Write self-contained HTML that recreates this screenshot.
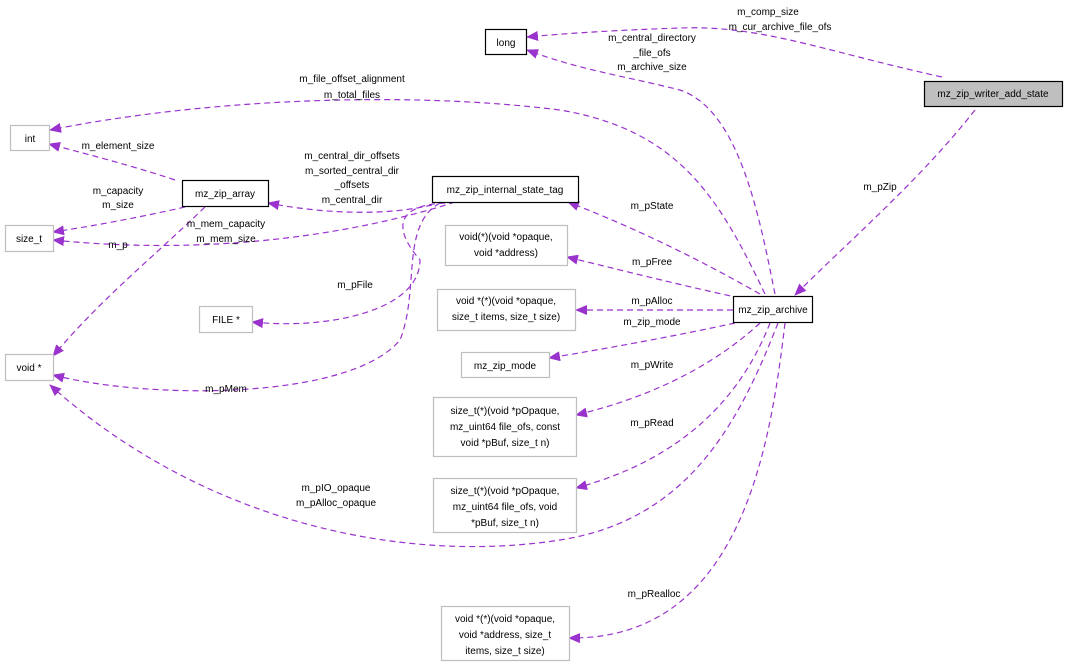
<!DOCTYPE html>
<html><head><meta charset="utf-8"><style>
html,body{margin:0;padding:0;background:#fff;}
svg{display:block;font-family:"Liberation Sans",sans-serif;}
text{font-size:10px;fill:#000;}
.e{fill:none;stroke:#9a32cd;stroke-width:1.2;stroke-dasharray:6,4;}
.g{fill:#fff;stroke:#bfbfbf;stroke-width:1.2;}
.b{fill:#fff;stroke:#000;stroke-width:1.2;}
</style></head><body>
<svg width="1069" height="665" viewBox="0 0 1069 665">
<defs><marker id="a" markerWidth="12" markerHeight="10" refX="11" refY="5" orient="auto" markerUnits="userSpaceOnUse"><path d="M0,0 L12,5 L0,10 z" fill="#9a32cd"/></marker></defs>
<!-- edges -->
<path class="e" marker-end="url(#a)" d="M942,77 C820,50 760,25 680,28 C620,30 570,33 527,37"/>
<path class="e" marker-end="url(#a)" d="M775,294 C760,220 740,110 680,90 C620,75 580,70 527,50"/>
<path class="e" marker-end="url(#a)" d="M765,294 C720,200 680,130 560,110 C400,90 200,100 50,130"/>
<path class="e" marker-end="url(#a)" d="M975,110 C920,180 850,240 795,295"/>
<path class="e" marker-end="url(#a)" d="M760,294 C700,260 640,230 568,202"/>
<path class="e" marker-end="url(#a)" d="M740,298 C680,285 620,270 567,257"/>
<path class="e" marker-end="url(#a)" d="M733,310 L576,310"/>
<path class="e" marker-end="url(#a)" d="M735,323 C680,335 610,348 549,358"/>
<path class="e" marker-end="url(#a)" d="M760,323 C720,360 660,395 576,415"/>
<path class="e" marker-end="url(#a)" d="M770,323 C740,400 680,460 576,488"/>
<path class="e" marker-end="url(#a)" d="M778,323 C740,420 690,520 560,540 C400,565 200,520 50,385"/>
<path class="e" marker-end="url(#a)" d="M785,323 C770,450 740,640 569,638"/>
<path class="e" marker-end="url(#a)" d="M432,205 C390,215 330,215 268,203"/>
<path class="e" marker-end="url(#a)" d="M445,203 C400,205 390,225 420,260 C420,310 330,330 252,322"/>
<path class="e" marker-end="url(#a)" d="M440,203 C400,225 420,290 400,340 C350,400 150,400 53,375"/>
<path class="e" marker-end="url(#a)" d="M455,202 C400,220 250,260 53,240"/>
<path class="e" marker-end="url(#a)" d="M185,207 C150,215 100,225 53,232"/>
<path class="e" marker-end="url(#a)" d="M205,207 C150,260 100,300 53,356"/>
<path class="e" marker-end="url(#a)" d="M175,180 C130,165 90,155 49,144"/>
<!-- nodes -->
<rect class="b" x="485.5" y="29.5" width="41" height="25"/><text x="506" y="46" text-anchor="middle">long</text>
<rect x="924.5" y="81.5" width="138" height="25" fill="#bfbfbf" stroke="#000" stroke-width="1.2"/><text x="993" y="97" text-anchor="middle">mz_zip_writer_add_state</text>
<rect class="g" x="10.5" y="125.5" width="39" height="25"/><text x="30" y="142" text-anchor="middle">int</text>
<rect class="b" x="182.5" y="180.5" width="86" height="26"/><text x="225" y="197" text-anchor="middle">mz_zip_array</text>
<rect class="b" x="432.5" y="176.5" width="146" height="26"/><text x="505" y="193" text-anchor="middle">mz_zip_internal_state_tag</text>
<rect class="g" x="5.5" y="225.5" width="48" height="26"/><text x="29" y="242" text-anchor="middle">size_t</text>
<rect class="g" x="445.5" y="225.5" width="122" height="40"/><text x="506" y="240" text-anchor="middle">void(*)(void *opaque,</text><text x="506" y="256" text-anchor="middle">void *address)</text>
<rect class="g" x="437.5" y="289.5" width="138" height="41"/><text x="506" y="304" text-anchor="middle">void *(*)(void *opaque,</text><text x="506" y="320" text-anchor="middle">size_t items, size_t size)</text>
<rect class="g" x="199.5" y="306.5" width="53" height="26"/><text x="226" y="323" text-anchor="middle">FILE *</text>
<rect class="b" x="733.5" y="296.5" width="79" height="26"/><text x="773" y="313" text-anchor="middle">mz_zip_archive</text>
<rect class="g" x="461.5" y="352.5" width="88" height="25"/><text x="505" y="369" text-anchor="middle">mz_zip_mode</text>
<rect class="g" x="5.5" y="354.5" width="48" height="26"/><text x="29" y="371" text-anchor="middle">void *</text>
<rect class="g" x="433.5" y="397.5" width="143" height="59"/><text x="505" y="414" text-anchor="middle">size_t(*)(void *pOpaque,</text><text x="505" y="430" text-anchor="middle">mz_uint64 file_ofs, const</text><text x="505" y="446" text-anchor="middle">void *pBuf, size_t n)</text>
<rect class="g" x="433.5" y="478.5" width="143" height="54"/><text x="505" y="494" text-anchor="middle">size_t(*)(void *pOpaque,</text><text x="505" y="510" text-anchor="middle">mz_uint64 file_ofs, void</text><text x="505" y="526" text-anchor="middle">*pBuf, size_t n)</text>
<rect class="g" x="441.5" y="606.5" width="128" height="54"/><text x="505" y="622" text-anchor="middle">void *(*)(void *opaque,</text><text x="505" y="638" text-anchor="middle">void *address, size_t</text><text x="505" y="654" text-anchor="middle">items, size_t size)</text>
<!-- edge labels -->
<g text-anchor="middle">
<text x="768" y="15">m_comp_size</text><text x="780" y="30">m_cur_archive_file_ofs</text>
<text x="652" y="41">m_central_directory</text><text x="652" y="56">_file_ofs</text><text x="652" y="70">m_archive_size</text>
<text x="352" y="82">m_file_offset_alignment</text><text x="352" y="98">m_total_files</text>
<text x="118" y="149">m_element_size</text>
<text x="352" y="159">m_central_dir_offsets</text><text x="352" y="174">m_sorted_central_dir</text><text x="352" y="188">_offsets</text><text x="352" y="203">m_central_dir</text>
<text x="118" y="194">m_capacity</text><text x="118" y="208">m_size</text>
<text x="226" y="227">m_mem_capacity</text><text x="226" y="242">m_mem_size</text>
<text x="118" y="248">m_p</text>
<text x="880" y="190">m_pZip</text>
<text x="652" y="209">m_pState</text>
<text x="652" y="265">m_pFree</text>
<text x="355" y="288">m_pFile</text>
<text x="652" y="304">m_pAlloc</text>
<text x="652" y="325">m_zip_mode</text>
<text x="652" y="368">m_pWrite</text>
<text x="226" y="392">m_pMem</text>
<text x="652" y="426">m_pRead</text>
<text x="336" y="491">m_pIO_opaque</text><text x="336" y="506">m_pAlloc_opaque</text>
<text x="654" y="597">m_pRealloc</text>
</g>
</svg>
</body></html>
